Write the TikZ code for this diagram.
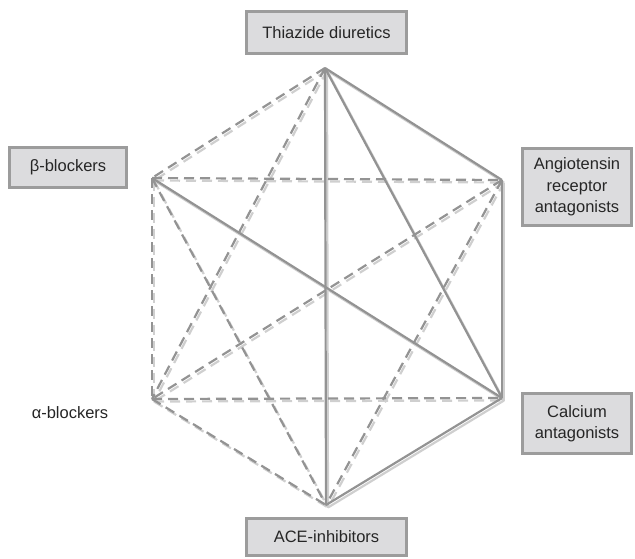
\documentclass[tikz,border=0pt]{standalone}
\usepackage{fontspec}
\setmainfont{Liberation Sans}
\definecolor{edgecol}{HTML}{939393}
\definecolor{shadecol}{HTML}{CFCFCF}
\definecolor{boxfill}{HTML}{DCDCDE}
\definecolor{boxline}{HTML}{9C9C9C}
\definecolor{txt}{HTML}{262626}
\begin{document}
\begin{tikzpicture}[x=1pt,y=-1pt,
  lbl/.style={draw=boxline, line width=3pt, fill=boxfill, text=txt,
    font=\fontsize{16.5}{21.5}\selectfont, align=center, inner sep=0pt},
  plain/.style={text=txt, font=\fontsize{16.5}{21.5}\selectfont, inner sep=0pt},
  solidedge/.style={draw=edgecol, line width=2.2pt},
  dashedge/.style={draw=edgecol, line width=2.2pt, dash pattern=on 10pt off 6pt},
  solidshade/.style={draw=shadecol, line width=2.2pt},
  dashshade/.style={draw=shadecol, line width=2.2pt, dash pattern=on 10pt off 6pt}]
\useasboundingbox (0,0) rectangle (635,558);
% vertices
\coordinate (t) at (325,68);
\coordinate (b) at (326,505);
\coordinate (ul) at (152,178);
\coordinate (ur) at (502,180);
\coordinate (ll) at (152,399);
\coordinate (lr) at (502,398);
% shadows
\foreach \p/\q in {t/ul, t/ll, ul/ur, ul/ll, ul/b, ur/ll, ur/b, ll/lr, ll/b}
  \draw[dashshade] ([shift={(2,2.5)}]\p) -- ([shift={(2,2.5)}]\q);
\foreach \p/\q in {t/b, t/ur, t/lr, ul/lr, ur/lr, lr/b}
  \draw[solidshade] ([shift={(2,2.5)}]\p) -- ([shift={(2,2.5)}]\q);
% main lines
\foreach \p/\q in {t/ul, t/ll, ul/ur, ul/ll, ul/b, ur/ll, ur/b, ll/lr, ll/b}
  \draw[dashedge] (\p) -- (\q);
\foreach \p/\q in {t/b, t/ur, t/lr, ul/lr, ur/lr, lr/b}
  \draw[solidedge] (\p) -- (\q);
% labels
\node[lbl, minimum width=160pt, minimum height=42pt] (thz) at (326.5,32.5) {Thiazide diuretics};
\node[lbl, minimum width=160pt, minimum height=37pt] (ace) at (326.5,537) {ACE-inhibitors};
\node[lbl, minimum width=117pt, minimum height=40pt] (beta) at (68,167.5) {β-blockers};
\node[lbl, minimum width=109pt, minimum height=77pt] (ang) at (577,187) {Angiotensin\\receptor\\antagonists};
\node[lbl, minimum width=109pt, minimum height=60pt] (cal) at (577,423.5) {Calcium\\antagonists};
\node[plain] (alpha) at (70,413) {α-blockers};
\end{tikzpicture}
\end{document}
